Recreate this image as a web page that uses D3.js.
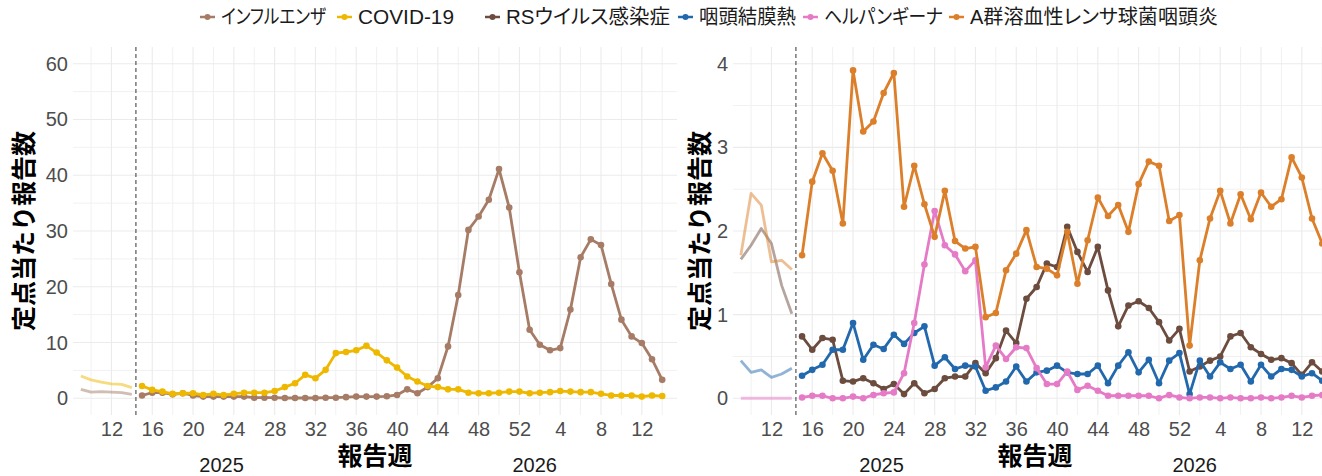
<!DOCTYPE html>
<html>
<head>
<meta charset="utf-8">
<script src="https://cdn.jsdelivr.net/npm/d3@7"></script>
<style>
  html, body { margin: 0; padding: 0; background: #ffffff; }
  svg { display: block; }
  text { font-family: "Liberation Sans", Arial, "Noto Sans CJK JP", sans-serif; }
  .legend text { font-feature-settings: "palt" 1; }
</style>
</head>
<body>
<svg id="chart" width="1322" height="476"></svg>
<script>
// Report weeks: the tail of the previous period (weeks 9-14 of 2025),
// then the current period, week 15 of 2025 through week 14 of 2026.
const priorWeeks = [9, 10, 11, 12, 13, 14];
const seasonWeeks = [15, 16, 17, 18, 19, 20, 21, 22, 23, 24, 25, 26, 27, 28, 29, 30, 31, 32, 33, 34,
  35, 36, 37, 38, 39, 40, 41, 42, 43, 44, 45, 46, 47, 48, 49, 50, 51, 52,
  1, 2, 3, 4, 5, 6, 7, 8, 9, 10, 11, 12, 13, 14];
const yearLabels = ["2025", "2026"];

const diseaseNames = ["インフルエンザ", "COVID-19", "RSウイルス感染症", "咽頭結膜熱", "ヘルパンギーナ", "A群溶血性レンサ球菌咽頭炎"];
const diseaseColors = ["#a67c66", "#efb800", "#6b4c3e", "#2268ad", "#e57bc6", "#dc7f2a"];

// Reports per sentinel site, current period
const fluValues = [0.5, 1.0, 1.0, 0.7, 0.9, 0.5, 0.3, 0.3, 0.3, 0.3, 0.3, 0.1, 0.1, 0.1, 0.05, 0.05, 0.05, 0.05, 0.1, 0.1,
  0.2, 0.3, 0.3, 0.3, 0.35, 0.6, 1.6, 0.9, 2.0, 3.6, 9.3, 18.5, 30.2, 32.6, 35.6, 41.1, 34.2, 22.6, 12.3, 9.6,
  8.6, 9.0, 15.9, 25.3, 28.5, 27.5, 20.5, 14.1, 11.1, 9.9, 7.0, 3.3];
const covidValues = [2.2, 1.5, 1.2, 0.8, 0.9, 0.9, 0.6, 0.8, 0.6, 0.8, 1.0, 1.0, 1.0, 1.3, 2.0, 2.7, 4.2, 3.6, 5.1, 8.1,
  8.3, 8.6, 9.4, 8.2, 6.8, 5.5, 3.9, 3.0, 2.2, 2.0, 1.6, 1.6, 1.0, 0.9, 0.9, 1.0, 1.2, 1.2, 0.9, 1.0,
  1.1, 1.3, 1.2, 1.1, 1.1, 0.8, 0.5, 0.5, 0.5, 0.3, 0.5, 0.4];
const rsvValues = [0.74, 0.58, 0.72, 0.70, 0.21, 0.20, 0.24, 0.18, 0.11, 0.17, 0.05, 0.18, 0.06, 0.11, 0.24, 0.26, 0.26, 0.42, 0.30, 0.48,
  0.81, 0.66, 1.19, 1.33, 1.61, 1.57, 2.05, 1.75, 1.51, 1.81, 1.29, 0.86, 1.11, 1.16, 1.08, 0.91, 0.69, 0.83, 0.32, 0.38,
  0.45, 0.50, 0.74, 0.78, 0.61, 0.53, 0.46, 0.48, 0.42, 0.28, 0.43, 0.32];
const pcfValues = [0.27, 0.34, 0.40, 0.58, 0.58, 0.90, 0.46, 0.64, 0.59, 0.76, 0.65, 0.78, 0.86, 0.39, 0.49, 0.35, 0.39, 0.38, 0.09, 0.13,
  0.20, 0.38, 0.20, 0.31, 0.33, 0.39, 0.31, 0.29, 0.29, 0.39, 0.18, 0.39, 0.55, 0.31, 0.46, 0.18, 0.45, 0.54, 0.05, 0.45,
  0.26, 0.43, 0.35, 0.40, 0.20, 0.40, 0.26, 0.35, 0.34, 0.26, 0.30, 0.21];
const herpValues = [0.01, 0.03, 0.03, 0.0, 0.0, 0.02, 0.0, 0.04, 0.06, 0.07, 0.30, 0.90, 1.60, 2.24, 1.83, 1.72, 1.52, 1.65, 0.37, 0.63,
  0.47, 0.61, 0.60, 0.36, 0.17, 0.17, 0.32, 0.10, 0.15, 0.09, 0.03, 0.03, 0.03, 0.03, 0.03, 0.0, 0.04, 0.01, 0.0, 0.01,
  0.01, 0.0, 0.01, 0.0, 0.0, 0.01, 0.0, 0.01, 0.03, 0.01, 0.03, 0.04];
const gasValues = [1.71, 2.59, 2.93, 2.72, 2.09, 3.92, 3.19, 3.31, 3.65, 3.89, 2.29, 2.78, 2.32, 1.93, 2.48, 1.88, 1.79, 1.81, 0.97, 1.02,
  1.53, 1.73, 2.01, 1.57, 1.55, 1.47, 1.99, 1.37, 1.89, 2.40, 2.18, 2.31, 1.99, 2.56, 2.83, 2.78, 2.12, 2.19, 0.63, 1.65,
  2.15, 2.48, 2.09, 2.44, 2.14, 2.46, 2.29, 2.38, 2.88, 2.64, 2.15, 1.85];

// Previous period (weeks 9-14), drawn faded
const fluPrior = [1.6, 1.1, 1.2, 1.1, 1.0, 0.7];
const covidPrior = [4.0, 3.3, 2.9, 2.6, 2.5, 1.9];
const rsvPrior = [1.66, 1.83, 2.03, 1.85, 1.35, 1.01];
const pcfPrior = [0.45, 0.31, 0.34, 0.25, 0.29, 0.36];
const herpPrior = [0.0, 0.0, 0.0, 0.0, 0.0, 0.0];
const gasPrior = [1.71, 2.45, 2.31, 1.63, 1.65, 1.54];

const yTicksLeft = [0, 10, 20, 30, 40, 50, 60];
const yTicksRight = [0, 1, 2, 3, 4];

const yTitle = "定点当たり報告数";
const xTitle = "報告週";

// ---------------------------------------------------------------
const svg = d3.select("#chart");
svg.append("rect").attr("width", 1322).attr("height", 476).attr("fill", "#ffffff");

// Sequential position of every week: prior weeks get -6..-1, season weeks 0..51
const allWeeks = priorWeeks.concat(seasonWeeks);
const offset = -priorWeeks.length;
const weekIndex = allWeeks.map((w, i) => i + offset);

const seriesDefs = [
  { name: diseaseNames[0], color: diseaseColors[0], values: fluValues, prior: fluPrior, panel: 0 },
  { name: diseaseNames[1], color: diseaseColors[1], values: covidValues, prior: covidPrior, panel: 0 },
  { name: diseaseNames[2], color: diseaseColors[2], values: rsvValues, prior: rsvPrior, panel: 1 },
  { name: diseaseNames[3], color: diseaseColors[3], values: pcfValues, prior: pcfPrior, panel: 1 },
  { name: diseaseNames[4], color: diseaseColors[4], values: herpValues, prior: herpPrior, panel: 1 },
  { name: diseaseNames[5], color: diseaseColors[5], values: gasValues, prior: gasPrior, panel: 1 }
];

const panelW = 604, plotTop = 47, plotBottom = 415;
const panels = [
  { left: 73, yDomain: [-3, 63], yTicks: yTicksLeft, minorStep: 5, titleX: 24 },
  { left: 733, yDomain: [-0.2, 4.2], yTicks: yTicksRight, minorStep: 0.5, titleX: 700 }
];

// Season boundary marker position (between week 14 and week 15)
const boundaryIndex = -0.6;
const yearIndex = [7.8, 38.5];

panels.forEach((p, pi) => {
  const x = d3.scaleLinear().domain([-6.77, 52.45]).range([p.left, p.left + panelW]);
  const y = d3.scaleLinear().domain(p.yDomain).range([plotBottom, plotTop]);

  const g = svg.append("g");
  const clipId = "clip" + pi;
  svg.append("clipPath").attr("id", clipId)
    .append("rect").attr("x", p.left).attr("y", plotTop).attr("width", panelW).attr("height", plotBottom - plotTop);

  // minor grid
  const ymax = p.yTicks[p.yTicks.length - 1];
  const yMinor = d3.range(p.minorStep, ymax, p.minorStep * 2);
  g.selectAll(".ymin").data(yMinor).join("line")
    .attr("x1", p.left).attr("x2", p.left + panelW)
    .attr("y1", d => y(d)).attr("y2", d => y(d))
    .attr("stroke", "#f1f1f1").attr("stroke-width", 1);
  const tickIdx = weekIndex.filter((t, i) => allWeeks[i] % 4 === 0);
  const xMinor = weekIndex.filter((t, i) => allWeeks[i] % 4 === 2 && t !== -1);
  g.selectAll(".xmin").data(xMinor).join("line")
    .attr("x1", d => x(d)).attr("x2", d => x(d))
    .attr("y1", plotTop).attr("y2", plotBottom)
    .attr("stroke", "#f1f1f1").attr("stroke-width", 1);

  // major grid
  g.selectAll(".ymaj").data(p.yTicks).join("line")
    .attr("x1", p.left).attr("x2", p.left + panelW)
    .attr("y1", d => y(d)).attr("y2", d => y(d))
    .attr("stroke", "#ebebeb").attr("stroke-width", 1.1);
  g.selectAll(".xmaj").data(tickIdx).join("line")
    .attr("x1", d => x(d)).attr("x2", d => x(d))
    .attr("y1", plotTop).attr("y2", plotBottom)
    .attr("stroke", "#ebebeb").attr("stroke-width", 1.1);

  // y tick labels
  g.selectAll(".ylab").data(p.yTicks).join("text")
    .attr("x", p.left - 5).attr("y", d => y(d))
    .attr("text-anchor", "end").attr("dominant-baseline", "central")
    .attr("font-size", 20).attr("fill", "#4d4d4d")
    .text(d => d3.format("d")(d));

  // x tick labels
  const xAxis = d3.axisBottom(x).tickValues(tickIdx).tickSize(0).tickPadding(0)
    .tickFormat(t => String(allWeeks[t - offset]));
  const ax = svg.append("g").attr("transform", `translate(0,${plotBottom + 14})`).call(xAxis);
  ax.select(".domain").remove();
  ax.selectAll("text").attr("font-size", 20).attr("fill", "#4d4d4d")
    .attr("font-family", "Liberation Sans, Arial, sans-serif").attr("dy", "0.35em").attr("y", 0);

  // year labels
  svg.selectAll(".year" + pi).data(yearLabels).join("text")
    .attr("x", (d, i) => x(yearIndex[i])).attr("y", 471.5)
    .attr("text-anchor", "middle")
    .attr("font-size", 20).attr("fill", "#1a1a1a").text(d => d);

  // axis titles
  svg.append("text")
    .attr("x", (p.left + p.left + panelW) / 2).attr("y", 465)
    .attr("text-anchor", "middle")
    .attr("font-size", 25).attr("font-weight", "bold").attr("fill", "#000")
    .text(xTitle);
  svg.append("text")
    .attr("transform", `translate(${p.titleX},${(plotTop + plotBottom) / 2}) rotate(-90)`)
    .attr("text-anchor", "middle").attr("dominant-baseline", "central")
    .attr("font-size", 25).attr("font-weight", "bold").attr("fill", "#000")
    .text(yTitle);

  // boundary marker
  g.append("line")
    .attr("x1", x(boundaryIndex)).attr("x2", x(boundaryIndex))
    .attr("y1", plotTop).attr("y2", plotBottom)
    .attr("stroke", "#333").attr("stroke-width", 1).attr("stroke-dasharray", "4,3");

  const plot = g.append("g").attr("clip-path", `url(#${clipId})`);
  const line = d3.line().x(d => x(d[0])).y(d => y(d[1]));

  const defs = seriesDefs.filter(s => s.panel === pi);
  // faded previous period
  defs.forEach(s => {
    const pts = s.prior.map((v, i) => [weekIndex[i], v]);
    plot.append("path").datum(pts).attr("d", line)
      .attr("fill", "none").attr("stroke", s.color).attr("stroke-width", 2.8)
      .attr("stroke-opacity", 0.5).attr("stroke-linejoin", "round");
  });
  // current period
  defs.forEach(s => {
    const pts = s.values.map((v, i) => [weekIndex[i + priorWeeks.length], v]);
    plot.append("path").datum(pts).attr("d", line)
      .attr("fill", "none").attr("stroke", s.color).attr("stroke-width", 2.8)
      .attr("stroke-linejoin", "round");
    plot.selectAll(null).data(pts).join("circle")
      .attr("cx", d => x(d[0])).attr("cy", d => y(d[1])).attr("r", 3.3)
      .attr("fill", s.color);
  });
});

// legend: key positions and label widths along the top row
const legendX = [200, 337, 485, 678, 803, 949];
const legendW = [105, 96, 164, 97, 119, 248];
const lg = svg.append("g").attr("class", "legend").attr("transform", "translate(0,17)");
seriesDefs.forEach((s, i) => {
  const k = lg.append("g").attr("transform", `translate(${legendX[i]},0)`);
  k.append("line").attr("x1", 0).attr("x2", 15).attr("y1", 0).attr("y2", 0)
    .attr("stroke", s.color).attr("stroke-width", 2.5);
  k.append("circle").attr("cx", 7.5).attr("cy", 0).attr("r", 3).attr("fill", s.color);
  k.append("text").attr("x", 21).attr("y", 0).attr("dominant-baseline", "central")
    .attr("font-size", 20).attr("fill", "#1a1a1a")
    .attr("textLength", legendW[i]).attr("lengthAdjust", "spacingAndGlyphs")
    .text(s.name);
});
</script>
</body>
</html>
